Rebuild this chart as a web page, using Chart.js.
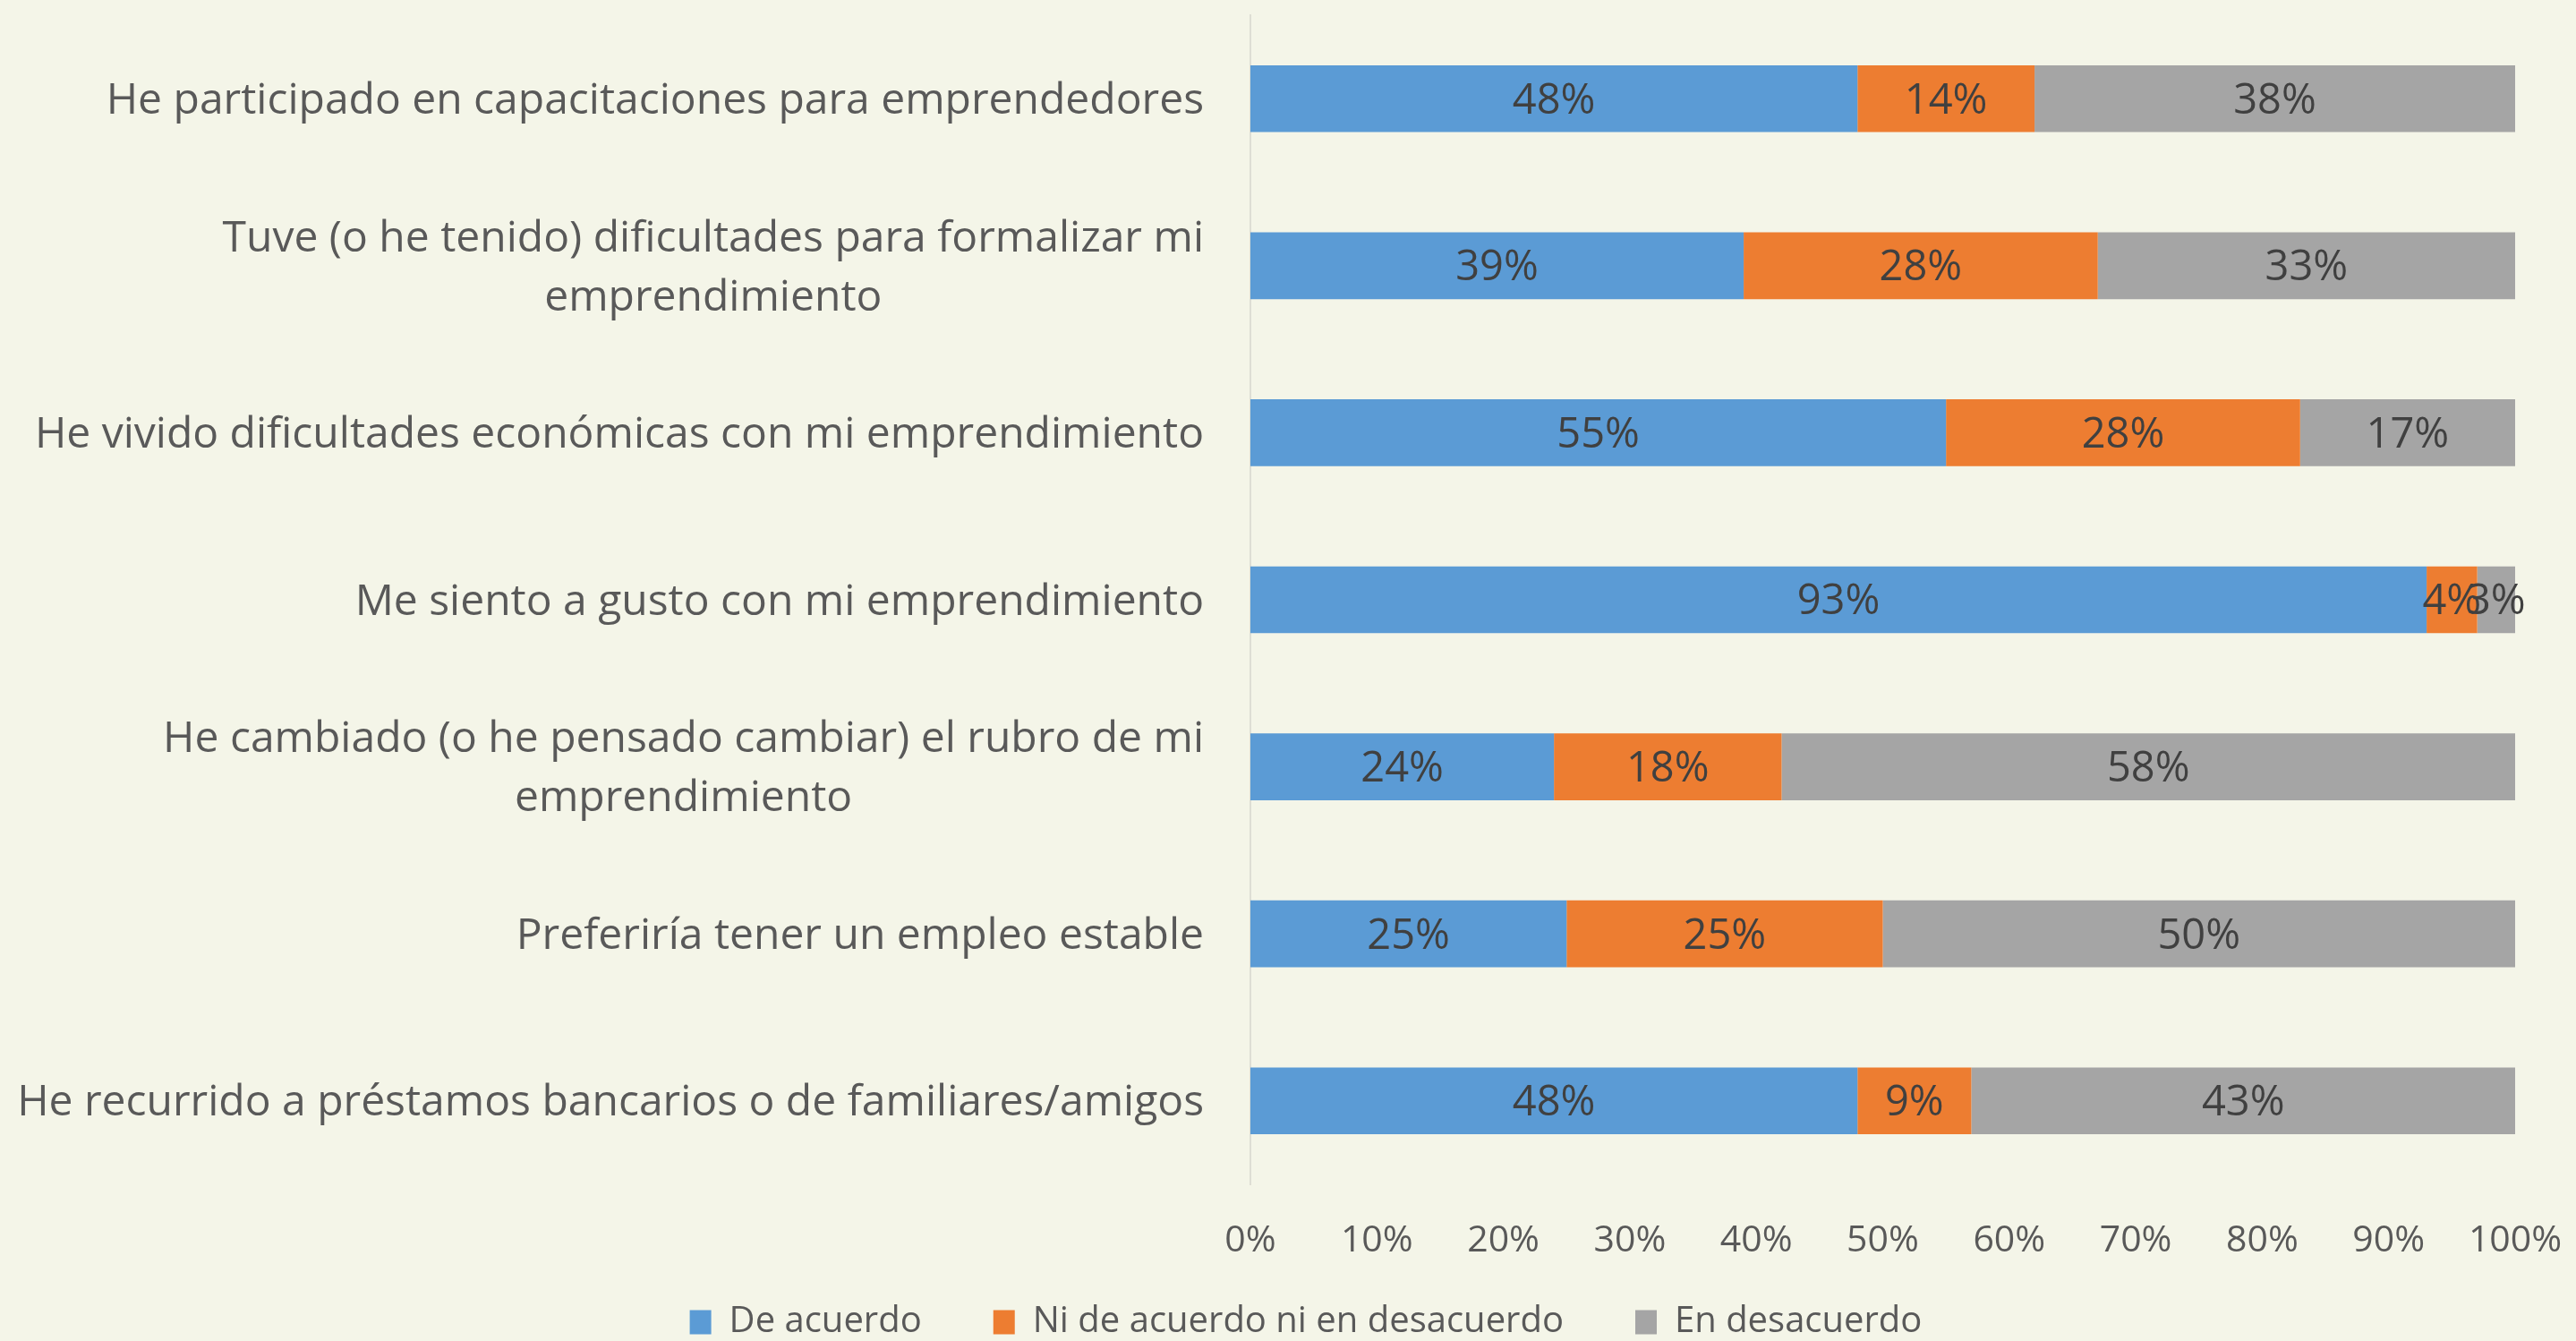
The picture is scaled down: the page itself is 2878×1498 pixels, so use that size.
<!DOCTYPE html>
<html>
<head>
<meta charset="utf-8">
<script src="https://cdn.jsdelivr.net/npm/chart.js@4.4.1/dist/chart.umd.min.js"></script>
<style>
  html, body { margin: 0; padding: 0; background: #f4f5e8; }
  #wrap { width: 2878px; height: 1498px; }
</style>
</head>
<body>
<div id="wrap"><canvas id="chart" width="2878" height="1498"></canvas></div>
<script>
const categories = [
  ['He participado en capacitaciones para emprendedores'],
  ['Tuve (o he tenido) dificultades para formalizar mi', 'emprendimiento'],
  ['He vivido dificultades económicas con mi emprendimiento'],
  ['Me siento a gusto con mi emprendimiento'],
  ['He cambiado (o he pensado cambiar) el rubro de mi', 'emprendimiento'],
  ['Preferiría tener un empleo estable'],
  ['He recurrido a préstamos bancarios o de familiares/amigos']
];
const seriesNames = ['De acuerdo', 'Ni de acuerdo ni en desacuerdo', 'En desacuerdo'];
const deAcuerdo    = [48, 39, 55, 93, 24, 25, 48];
const niNi         = [14, 28, 28, 4, 18, 25, 9];
const enDesacuerdo = [38, 33, 17, 3, 58, 50, 43];
const xTicks = [0, 10, 20, 30, 40, 50, 60, 70, 80, 90, 100];

const FONT = '"Open Sans", Lato, sans-serif';
const colors = ['#5b9bd5', '#ed7d31', '#a5a5a5'];

// fills the cream background
const bgPlugin = {
  id: 'bg',
  beforeDraw(chart) {
    const ctx = chart.ctx;
    ctx.save();
    ctx.fillStyle = '#f4f5e8';
    ctx.fillRect(0, 0, chart.width, chart.height);
    ctx.restore();
  }
};

// category labels: right aligned block, lines centred inside it (like Excel)
const catLabels = {
  id: 'catLabels',
  afterDraw(chart) {
    const ctx = chart.ctx;
    const y = chart.scales.y;
    const right = chart.chartArea.left - 52;
    ctx.save();
    ctx.font = '48px ' + FONT;
    ctx.fillStyle = '#595959';
    ctx.textAlign = 'center';
    ctx.textBaseline = 'middle';
    categories.forEach((lines, i) => {
      const cy = y.getPixelForTick(i) + 3;
      const w = Math.max(...lines.map(l => ctx.measureText(l).width));
      const cx = right - w / 2;
      lines.forEach((l, j) => {
        ctx.fillText(l, cx, cy + (j - (lines.length - 1) / 2) * 66);
      });
    });
    ctx.restore();
  }
};

// value labels in the middle of each segment
const valueLabels = {
  id: 'valueLabels',
  afterDatasetsDraw(chart) {
    const ctx = chart.ctx;
    ctx.save();
    ctx.font = '47px ' + FONT;
    ctx.fillStyle = '#404040';
    ctx.textAlign = 'center';
    ctx.textBaseline = 'middle';
    chart.data.datasets.forEach((ds, di) => {
      chart.getDatasetMeta(di).data.forEach((bar, i) => {
        const { x, y, base } = bar.getProps(['x', 'y', 'base'], true);
        ctx.fillText(ds.data[i] + '%', (x + base) / 2, y + 3);
      });
    });
    ctx.restore();
  }
};

// put the legend where the original one sits
const legendShift = {
  id: 'legendShift',
  afterLayout(chart) {
    const lg = chart.legend;
    if (!lg) return;
    const pad = lg.options.labels.padding;
    lg.top = 1477 - pad - 20;
    lg.bottom = chart.height;
    lg.height = lg.bottom - lg.top;
    lg.left += 54;
    lg.right += 54;
  }
};

new Chart(document.getElementById('chart'), {
  type: 'bar',
  data: {
    labels: categories,
    datasets: [
      { label: seriesNames[0], data: deAcuerdo, backgroundColor: colors[0] },
      { label: seriesNames[1], data: niNi, backgroundColor: colors[1] },
      { label: seriesNames[2], data: enDesacuerdo, backgroundColor: colors[2] }
    ]
  },
  options: {
    indexAxis: 'y',
    responsive: false,
    animation: false,
    devicePixelRatio: 1,
    layout: { padding: { left: 0, right: 68, top: 17, bottom: 0 } },
    datasets: { bar: { categoryPercentage: 0.4, barPercentage: 1.0 } },
    scales: {
      x: {
        stacked: true,
        min: 0,
        max: 100,
        afterBuildTicks: s => { s.ticks = xTicks.map(v => ({ value: v })); },
        ticks: {
          callback: v => v + '%',
          font: { family: FONT, size: 41 },
          color: '#595959',
          padding: 39,
          maxRotation: 0
        },
        grid: { display: false, drawTicks: false },
        border: { display: false },
        afterFit: s => { s.height = 90; s.paddingLeft = 0; s.paddingRight = 0; }
      },
      y: {
        stacked: true,
        ticks: { display: false },
        grid: { display: false, drawTicks: false },
        border: { display: true, color: '#deded4', width: 2 },
        afterFit: s => { s.width = 1397; }
      }
    },
    plugins: {
      legend: {
        position: 'bottom',
        maxHeight: 85,
        labels: {
          font: { family: FONT, size: 40 },
          color: '#595959',
          boxWidth: 24,
          boxHeight: 27,
          padding: 80
        }
      },
      tooltip: { enabled: false }
    }
  },
  plugins: [bgPlugin, catLabels, valueLabels, legendShift]
});
</script>
</body>
</html>
